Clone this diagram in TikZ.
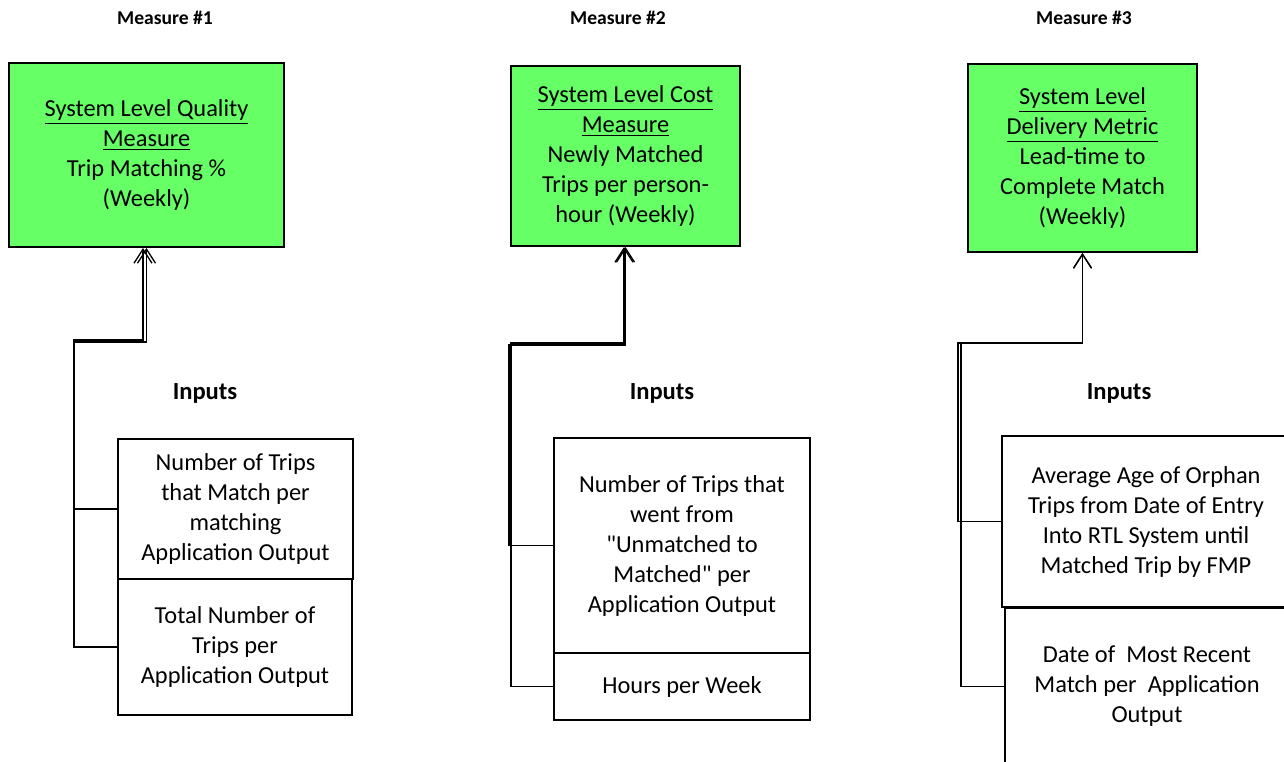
\documentclass[tikz,border=0pt]{standalone}
\usepackage{fontspec}
\setmainfont{Carlito}[Ligatures=TeXOff]
\usetikzlibrary{arrows.meta}
\definecolor{boxgreen}{RGB}{102,255,102}
\tikzset{
  x=0.5pt, y=-0.5pt,
  txt/.style={font=\fontsize{12.2pt}{15pt}\selectfont, align=center},
  metric/.style={txt, draw=black, line width=1pt, fill=boxgreen, inner sep=0pt},
  inbox/.style={txt, draw=black, line width=1pt, fill=white, inner sep=0pt},
  head/.style={font=\fontsize{9.8pt}{12pt}\selectfont\bfseries},
  inhead/.style={font=\fontsize{12.3pt}{15pt}\selectfont\bfseries},
  conn/.style={draw=black, line width=0.65pt},
  arr/.style={conn, -{Straight Barb[length=7pt,width=9pt,line width=0.65pt]}}
}
\begin{document}
\begin{tikzpicture}
\useasboundingbox (0,0) rectangle (1284,761);
\clip (0,0) rectangle (1284,761);

% headings
\node[head] (h1) at (165,18) {Measure \#1};
\node[head] (h2) at (618,18) {Measure \#2};
\node[head] (h3) at (1084,18) {Measure \#3};

% metric boxes
\node[metric, minimum width=137.5pt, minimum height=92pt] (g1) at (146.5,155)
  {\underline{System Level Quality}\\\underline{Measure}\\Trip Matching \%\\(Weekly)};
\node[metric, minimum width=114.5pt, minimum height=90pt] (g2) at (625.5,156)
  {\underline{System Level Cost}\\\underline{Measure}\\Newly Matched\\Trips per person-\\hour (Weekly)};
\node[metric, minimum width=114.5pt, minimum height=94pt] (g3) at (1082.5,158)
  {\underline{System Level}\\\underline{Delivery Metric}\\Lead-time to\\Complete Match\\(Weekly)};

% Inputs labels
\node[inhead] (l1) at (205,393) {Inputs};
\node[inhead] (l2) at (662,393) {Inputs};
\node[inhead] (l3) at (1119,393) {Inputs};

% input boxes
\node[inbox, minimum width=117.5pt, minimum height=70pt] (i1a) at (235.5,509)
  {Number of Trips\\that Match per\\matching\\Application Output};
\node[inbox, minimum width=117pt, minimum height=68pt] (i1b) at (235,647)
  {Total Number of\\Trips per\\Application Output};

\node[inbox, minimum width=128pt, minimum height=107.5pt] (i2a) at (682,545.5)
  {Number of Trips that\\went from\\"Unmatched to\\Matched" per\\Application Output};
\node[inbox, minimum width=128pt, minimum height=33.5pt] (i2b) at (682,686.5)
  {Hours per Week};

\node[inbox, minimum width=142pt, minimum height=79pt] (i3b) at (1147,686.5)
  {Date of ~Most Recent\\Match per ~Application\\Output};
\node[inbox, minimum width=144pt, minimum height=85.5pt] (i3a) at (1146,521.5)
  {Average Age of Orphan\\Trips from Date of Entry\\Into RTL System until\\Matched Trip by FMP};

% connectors measure 1
\draw[arr] (i1a.west) -| (74,342) -| (g1.south);
\draw[arr] (i1b.west) -| (74,340) -- (143,340) -- (g1.south -| 143,0);

% connectors measure 2
\draw[arr] (i2a.west) -| (509,345) -| (g2.south);
\draw[arr] (i2b.west) -| (511,343) -- (624,343) -- (g2.south -| 624,0);

% connectors measure 3
\draw[arr] (i3a.west) -| (958,343) -| (g3.south);
\draw[arr] (i3b.west) -| (961,343) -| (g3.south);
\end{tikzpicture}
\end{document}
